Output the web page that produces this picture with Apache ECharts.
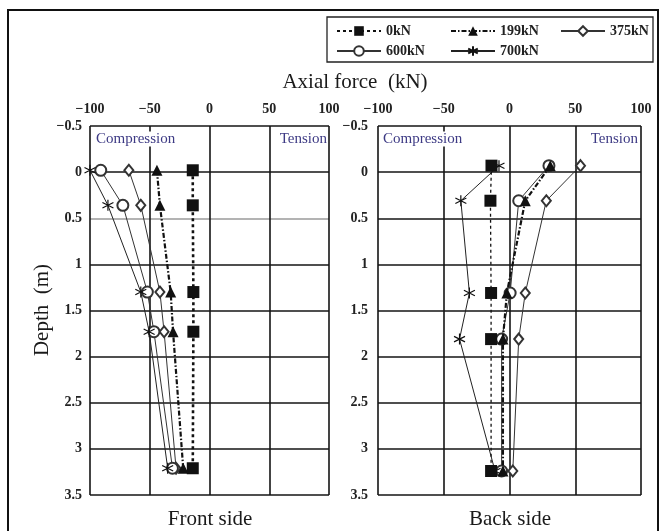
<!DOCTYPE html>
<html>
<head>
<meta charset="utf-8">
<script src="https://cdn.jsdelivr.net/npm/echarts@6/dist/echarts.min.js"></script>
<style>html,body{margin:0;padding:0;background:#fff;}#c{width:662px;height:531px;}</style>
</head>
<body>
<div id="c"></div>
<script>
// ---- data ----
var seriesNames = ['0kN', '199kN', '375kN', '600kN', '700kN'];
var xTicks = [-100, -50, 0, 50, 100];
var yTicks = [-0.5, 0, 0.5, 1, 1.5, 2, 2.5, 3, 3.5];

var depthFront = [-0.02, 0.36, 1.3, 1.73, 3.21];
var front0   = [-14, -14, -13.5, -13.5, -14];
var front199 = [-44, -41.5, -32.5, -30.5, -22];
var front375 = [-67.5, -57.5, -41.5, -38, -28];
var front600 = [-91, -72.5, -52, -46.5, -31];
var front700 = [-100, -85, -57.5, -50.5, -35];

var depthBack = [-0.07, 0.31, 1.31, 1.81, 3.24];
var back0   = [-13.7, -14.5, -14, -14, -14];
var back199 = [31, 12, -2, -5, -5];
var back375 = [54, 28, 12, 7, 2.5];
var back600 = [30, 7, 0.5, -6, -6];
var back700 = [-8, -37, -30.5, -38, -11];

function pairs(xs, ys) { return xs.map(function (v, i) { return [v, ys[i]]; }); }
function fmt(v) { return v < 0 ? '\u2212' + Math.abs(v) : String(v); }

var serif = 'Liberation Serif';
var asterisk = 'path://M10,0 L10,20 M1.3,5 L18.7,15 M1.3,15 L18.7,5';

var styles = {
  '0kN':   { symbol: 'rect', symbolSize: 12, color: '#111', fill: '#111', lw: 2.6, type: [3, 3] },
  '199kN': { symbol: 'triangle', symbolSize: 11, color: '#111', fill: '#111', lw: 2.2, type: [5, 2, 1.5, 2] },
  '375kN': { symbol: 'emptyDiamond', symbolSize: [9, 11], color: '#333', lw: 1, type: 'solid' },
  '600kN': { symbol: 'emptyCircle', symbolSize: 11, color: '#333', lw: 1, type: 'solid' },
  '700kN': { symbol: asterisk, symbolSize: 11, color: '#222', lw: 1, type: 'solid' }
};

function mkSeries(name, xs, ys, gi, backStyle) {
  var s = styles[name];
  var lineType = s.type, lw = s.lw;
  if (backStyle && name === '0kN') { lineType = [3, 3]; lw = 1.3; }
  var item;
  if (s.fill) item = { color: s.fill, borderColor: s.fill, borderWidth: 0 };
  else if (name === '700kN') item = { color: 'rgba(0,0,0,0)', borderColor: '#111', borderWidth: 1.2 };
  else item = { color: s.color, borderColor: s.color, borderWidth: 1.1 };
  return {
    name: name, type: 'line', xAxisIndex: gi, yAxisIndex: gi,
    data: pairs(xs, ys), symbol: s.symbol, symbolSize: s.symbolSize,
    showAllSymbol: true, animation: false,
    z: name === '0kN' ? 6 : (name === '199kN' ? 5 : 4),
    lineStyle: { color: s.color, width: lw, type: lineType },
    itemStyle: item
  };
}

var gridLine = '#151515';
function xAxis(gi) {
  return {
    gridIndex: gi, type: 'value', position: 'top', min: -100, max: 100, interval: 50,
    axisLine: { show: false }, axisTick: { show: false },
    axisLabel: { margin: 10, formatter: fmt, fontFamily: serif, fontWeight: 'bold', fontSize: 14, color: '#222' },
    splitLine: { show: true, lineStyle: { color: gridLine, width: 1.6 } }
  };
}
function yAxis(gi, colors, margin) {
  return {
    gridIndex: gi, type: 'value', inverse: true, min: -0.5, max: 3.5, interval: 0.5,
    axisLine: { show: false }, axisTick: { show: false },
    axisLabel: { margin: margin, formatter: fmt, fontFamily: serif, fontWeight: 'bold', fontSize: 14, color: '#222' },
    splitLine: { show: true, lineStyle: { color: colors, width: 1.6 } }
  };
}
var frontColors = [gridLine, gridLine, '#9a9a9a', gridLine, gridLine, gridLine, gridLine, gridLine, gridLine];

var legendText = { fontFamily: serif, fontWeight: 'bold', fontSize: 14, color: '#222' };
function legend(left, data) {
  return {
    left: left, top: 24, orient: 'vertical', itemGap: 6, itemWidth: 44, itemHeight: 12,
    data: data, textStyle: legendText, selectedMode: false, padding: 0
  };
}

function txt(x, y, text, size, color, align, extra) {
  var o = {
    type: 'text', x: x, y: y,
    style: { text: text, fontFamily: serif, fontSize: size, fill: color, align: align || 'center', verticalAlign: 'middle' },
    z: 10
  };
  if (extra) for (var k in extra) o.style[k] = extra[k];
  return o;
}
var cmpColor = '#3d3a84';
var bg = { backgroundColor: '#fff', padding: [0, 1] };

var option = {
  animation: false,
  backgroundColor: '#fff',
  grid: [
    { left: 90, top: 126, width: 239, height: 369 },
    { left: 378, top: 126, width: 263, height: 369 }
  ],
  xAxis: [xAxis(0), xAxis(1)],
  yAxis: [yAxis(0, frontColors, 8), yAxis(1, gridLine, 10)],
  legend: [
    legend(336, ['0kN', '600kN']),
    legend(450, ['199kN', '700kN']),
    legend(560, ['375kN'])
  ],
  series: [
    mkSeries('0kN', front0, depthFront, 0),
    mkSeries('199kN', front199, depthFront, 0),
    mkSeries('375kN', front375, depthFront, 0),
    mkSeries('600kN', front600, depthFront, 0),
    mkSeries('700kN', front700, depthFront, 0),
    mkSeries('0kN', back0, depthBack, 1, true),
    mkSeries('199kN', back199, depthBack, 1, true),
    mkSeries('375kN', back375, depthBack, 1, true),
    mkSeries('600kN', back600, depthBack, 1, true),
    mkSeries('700kN', back700, depthBack, 1, true)
  ],
  graphic: [
    { type: 'rect', shape: { x: 8, y: 10, width: 650, height: 540 }, style: { fill: 'none', stroke: '#111', lineWidth: 2 }, z: 1 },
    { type: 'rect', shape: { x: 327, y: 17, width: 326, height: 45 }, style: { fill: 'none', stroke: '#222', lineWidth: 1.3 }, z: 1 },
    txt(355, 82, 'Axial force  (kN)', 21, '#1a1a1a'),
    txt(210, 519, 'Front side', 21, '#1a1a1a'),
    txt(510, 519, 'Back side', 21, '#1a1a1a'),
    { type: 'text', x: 42, y: 310, rotation: Math.PI / 2,
      style: { text: 'Depth  (m)', fontFamily: serif, fontSize: 21, fill: '#1a1a1a', align: 'center', verticalAlign: 'middle' }, z: 10 },
    txt(95, 139, 'Compression', 15, cmpColor, 'left', bg),
    txt(328, 139, 'Tension', 15, cmpColor, 'right', bg),
    txt(382, 139, 'Compression', 15, cmpColor, 'left', bg),
    txt(639, 139, 'Tension', 15, cmpColor, 'right', bg)
  ]
};

var chart = echarts.init(document.getElementById('c'), null, { renderer: 'canvas' });
chart.setOption(option);
</script>
</body>
</html>
